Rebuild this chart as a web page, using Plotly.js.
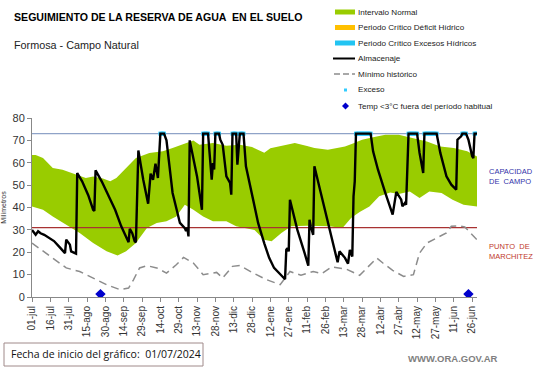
<!DOCTYPE html>
<html><head><meta charset="utf-8">
<script src="https://cdn.plot.ly/plotly-3.0.1.min.js"></script>
<style>body{margin:0;background:#fff}#c{width:541px;height:368px}</style>
</head><body><div id="c"></div>
<script>
// x in days since 01-jul-2024
const tickDays = [0,15,30,45,60,75,90,105,120,135,150,165,180,195,210,225,240,255,270,285,300,315,330,345,360];
const tickLabels = ["01-jul","16-jul","31-jul","15-ago","30-ago","14-sep","29-sep","14-oct","29-oct","13-nov","28-nov","13-dic","28-dic","12-ene","27-ene","11-feb","26-feb","13-mar","28-mar","12-abr","27-abr","12-may","27-may","11-jun","26-jun"];

const almDays = [0,2,3,5,7,10,14,18,22,25,27,28,30,31,32,35,36,37,41,46,50,51,52,57,63,68,73,78,79,80,82,84,85,87,91,95,97,99,101,103,104,105,108,109,110,115,121,125,126,127,128,129,135,139,140,144,146,147,148,149,150,153,154,156,159,162,163,164,167,168,170,173,175,180,185,190,194,198,202,206,207,208,209,210,211,217,223,226,227,228,230,231,236,241,246,250,251.5,254,256,258.5,260,261,262,263,264,265,277,279,283,289,295,298,302,303,305,306,308,315,317,320,321,331,334,339,343,347,348,351,352,355,357,360,361,362,364];
const almVals = [30,28.5,27.8,29.4,28.5,27.8,26.5,25,22.6,20.5,19.6,25.6,24.2,23.4,20.4,19.6,19.4,55.4,51.7,45.5,39,38.5,56.6,51.7,45,39,31.6,25,24.5,30.5,28.5,24.9,24.5,65.5,52.4,41.7,55.1,52.4,59.6,53.2,66.6,73,73,71,70,46.5,33.1,30.8,29.5,31,27.1,70,53.9,39,73,73,60,52.4,59.9,57,73,73,70.3,68,53.9,51,45.7,73,73,59.1,73,73,58.4,45.5,33,24,17.5,13,10.5,8.5,8,21.1,21.8,20.4,43.5,30.1,19.6,14,34.5,31.6,27.8,58.4,47,36,24,15.5,20.4,19,17.5,14.9,21.1,19.5,18.1,45,51.7,73,73,65.1,56.9,46.5,36.8,47,43.5,40.5,42,41.2,73,73,64.4,55.4,73,73,64.4,53.9,50.2,48,70.3,71.8,73,73,70.3,63,62,73,73];

const upDays = [0,3,9,17,25,36,44,50,58,64,69,77,85,96,107,115,126,132,137,148,159,170,180,186,190,195,200,215,225,231,242,250,256,262,270,280,289,300,306,315,323,334,345,356,364];
const upVals = [63.5,63.5,62.1,57.7,56.9,54.7,53.2,53.9,53,51.7,53.2,57.7,62.1,64.4,65.1,66.6,68.8,70,68.1,68.8,67.6,68.1,67,65.5,64.5,66.5,67,68.8,67.5,66.6,65.8,66.5,67.3,68.5,70.3,71.5,72.5,72.5,71.8,70.5,69.5,67.3,66.6,65.1,62.8];
const loDays = [0,9,17,28,39,50,61,70,77,85,94,102,110,118,125,132,140,148,159,167,175,182,190,196,204,212,225,243,254,261,268,276,284,293,300,309,317,325,335,344,353,364];
const loVals = [40.5,39,36,32.3,28.6,24.1,20.4,18.6,20.4,24.1,30.8,33.1,33.8,36,41.2,39,36,33.8,33.8,31.6,30.8,30,25.6,24.9,28.6,31.6,31.8,31.6,30.8,35.3,38,40.5,45,46.7,46,47.2,44.2,47.2,46.5,43.5,41.2,40.5];

const minDays = [0,9,17,28,39,50,61,72,79,83,88,94,102,110,118,124,132,140,145,151,156,164,170,181,192,203,211,220,230,237,245,257,268,282,287,295,304,312,317,323,331,339,343,349,354,360,364];
const minVals = [24.1,20.4,17.4,13,11.4,8.5,5.5,3.3,4,7.7,13,14,13,10.7,14.4,17.7,15.2,10,10.5,11,8.5,13.7,14.1,10.7,7.7,5.5,11.4,9.7,11.4,10.4,13.4,12.5,9.7,17.4,15.2,11.9,9.2,10,19.6,24.1,26.4,28.6,31.6,31.8,31.3,27.8,25.6];

const excesoDays = [105,106,107,108,140,141,142,143,144,150,151,152,153,164,165,166,167,170,171,172,173,265,266,267,268,269,270,271,272,273,274,275,276,277,308,309,310,311,312,313,314,315,321,322,323,324,325,326,327,328,329,330,331,352,353,354,355,362,363,364];
const excesoVal = 73;
const tempDays = [56,357];
const tempVal = 1.3;
const capacidadCampo = 73;
const puntoMarchitez = 31;
const axisEnd = 364;

const F = "Arial, 'Liberation Sans', sans-serif";
const traces = [
  {x: loDays, y: loVals, mode:'lines', line:{width:0,color:'rgba(0,0,0,0)'}, hoverinfo:'skip', showlegend:false},
  {x: upDays, y: upVals, mode:'lines', fill:'tonexty', fillcolor:'#99cc00', line:{width:0,color:'#99cc00'}, showlegend:false, name:'Intervalo Normal'},
  {x:[0,axisEnd], y:[capacidadCampo,capacidadCampo], mode:'lines', line:{color:'#8fa3c8',width:1.3}, showlegend:false},
  {x:[0,axisEnd], y:[puntoMarchitez,puntoMarchitez], mode:'lines', line:{color:'#a83232',width:1.2}, showlegend:false},
  {x: minDays, y: minVals, mode:'lines', line:{color:'#8c8c8c',width:1.5,dash:'8px,5px'}, showlegend:false, name:'Mínimo histórico'},
  {x: excesoDays, y: excesoDays.map(()=>excesoVal), mode:'markers', marker:{symbol:'square',size:4,color:'#33ccff'}, showlegend:false, name:'Exceso'},
  {x: almDays, y: almVals, mode:'lines', line:{color:'#000',width:2.4}, showlegend:false, name:'Almacenaje'},
  {x: tempDays, y: tempDays.map(()=>tempVal), mode:'markers', marker:{symbol:'diamond',size:8,color:'#0000cc'}, showlegend:false, name:'Temp <3°C fuera del período habitual'}
];

const legendItems = [
  {t:'Intervalo Normal', y:12},
  {t:'Periodo Crítico Déficit Hídrico', y:27.5},
  {t:'Periodo Crítico Excesos Hídricos', y:43},
  {t:'Almacenaje', y:58.5},
  {t:'Mínimo histórico', y:74},
  {t:'Exceso', y:90},
  {t:'Temp <3°C fuera del período habitual', y:106}
];
const H = 368, W = 541, ML = 32, MR = 64, MT = 118, MB = 71;
const PW = W - ML - MR, PH = H - MT - MB;
const px = v => (v - ML) / PW, py = v => (H - MB - v) / PH;
const annotations = legendItems.map(it => ({xref:'paper',yref:'paper',x:px(356),y:py(it.y),xanchor:'left',yanchor:'middle',text:it.t,showarrow:false,font:{family:F,size:8.1,color:'#222'}}));
annotations.push(
  {xref:'paper',yref:'paper',x:px(12),y:py(17),xanchor:'left',yanchor:'middle',text:'<b>SEGUIMIENTO DE LA RESERVA DE AGUA  EN EL SUELO</b>',showarrow:false,font:{family:F,size:10.6,color:'#000'}},
  {xref:'paper',yref:'paper',x:px(12),y:py(45),xanchor:'left',yanchor:'middle',text:'Formosa - Campo Natural',showarrow:false,font:{family:F,size:10.8,color:'#222'}},
  {xref:'paper',yref:'paper',x:px(487),y:py(176),xanchor:'left',yanchor:'middle',align:'left',text:'CAPACIDAD<br>DE  CAMPO',showarrow:false,font:{family:F,size:7.5,color:'#3333aa'}},
  {xref:'paper',yref:'paper',x:px(487),y:py(251),xanchor:'left',yanchor:'middle',align:'left',text:'PUNTO  DE<br>MARCHITEZ',showarrow:false,font:{family:F,size:7.5,color:'#c0392b'}},
  {xref:'paper',yref:'paper',x:px(9),y:py(354),xanchor:'left',yanchor:'middle',text:'Fecha de inicio del gráfico:  01/07/2024',showarrow:false,font:{family:"'Open Sans', Arial, sans-serif",size:10.5,color:'#111'}},
  {xref:'paper',yref:'paper',x:px(500),y:py(358),xanchor:'right',yanchor:'middle',text:'<b>WWW.ORA.GOV.AR</b>',showarrow:false,font:{family:F,size:9.5,color:'#808080'}}
);
const shapes = [
  {type:'line',xref:'paper',yref:'paper',x0:px(335),x1:px(355),y0:py(12),y1:py(12),line:{color:'#99cc00',width:5}},
  {type:'line',xref:'paper',yref:'paper',x0:px(335),x1:px(355),y0:py(27.5),y1:py(27.5),line:{color:'#ffc000',width:5}},
  {type:'line',xref:'paper',yref:'paper',x0:px(335),x1:px(355),y0:py(43),y1:py(43),line:{color:'#22c4f2',width:5}},
  {type:'line',xref:'paper',yref:'paper',x0:px(333),x1:px(355),y0:py(58.5),y1:py(58.5),line:{color:'#000',width:2}},
  {type:'line',xref:'paper',yref:'paper',x0:px(334),x1:px(355),y0:py(74),y1:py(74),line:{color:'#8c8c8c',width:1.5,dash:'6px,3px'}},
  {type:'rect',xref:'paper',yref:'paper',x0:px(344),x1:px(347),y0:py(88.5),y1:py(91.5),fillcolor:'#33ccff',line:{width:0}},
  {type:'path',xref:'paper',yref:'paper',path:`M ${px(345.5)} ${py(102.5)} L ${px(349)} ${py(106)} L ${px(345.5)} ${py(109.5)} L ${px(342)} ${py(106)} Z`,fillcolor:'#0000cc',line:{width:0}},
  {type:'rect',xref:'paper',yref:'paper',x0:px(4),x1:px(203),y0:py(343),y1:py(366),line:{color:'#a08a8a',width:1},fillcolor:'rgba(0,0,0,0)'}
];

const layout = {
  width:W, height:H, margin:{l:ML,r:MR,t:MT,b:MB},
  paper_bgcolor:'#fff', plot_bgcolor:'#fff', showlegend:false,
  xaxis:{range:[0,axisEnd], tickmode:'array', tickvals:tickDays, ticktext:tickLabels, tickangle:-90,
         ticks:'outside', ticklen:4, tickcolor:'#888', showline:true, linecolor:'#888', linewidth:1,
         showgrid:false, zeroline:false, tickfont:{family:F,size:10,color:'#333'}},
  yaxis:{range:[0,80], tickvals:[0,10,20,30,40,50,60,70,80], ticks:'outside', ticklen:4, tickcolor:'#888',
         showline:true, linecolor:'#888', linewidth:1, showgrid:false, zeroline:false,
         tickfont:{family:F,size:11,color:'#333'},
         title:{text:'Milímetros', font:{family:F,size:7,color:'#333'}, standoff:5}},
  annotations, shapes
};
Plotly.newPlot('c', traces, layout, {staticPlot:true, displayModeBar:false});
</script></body></html>
